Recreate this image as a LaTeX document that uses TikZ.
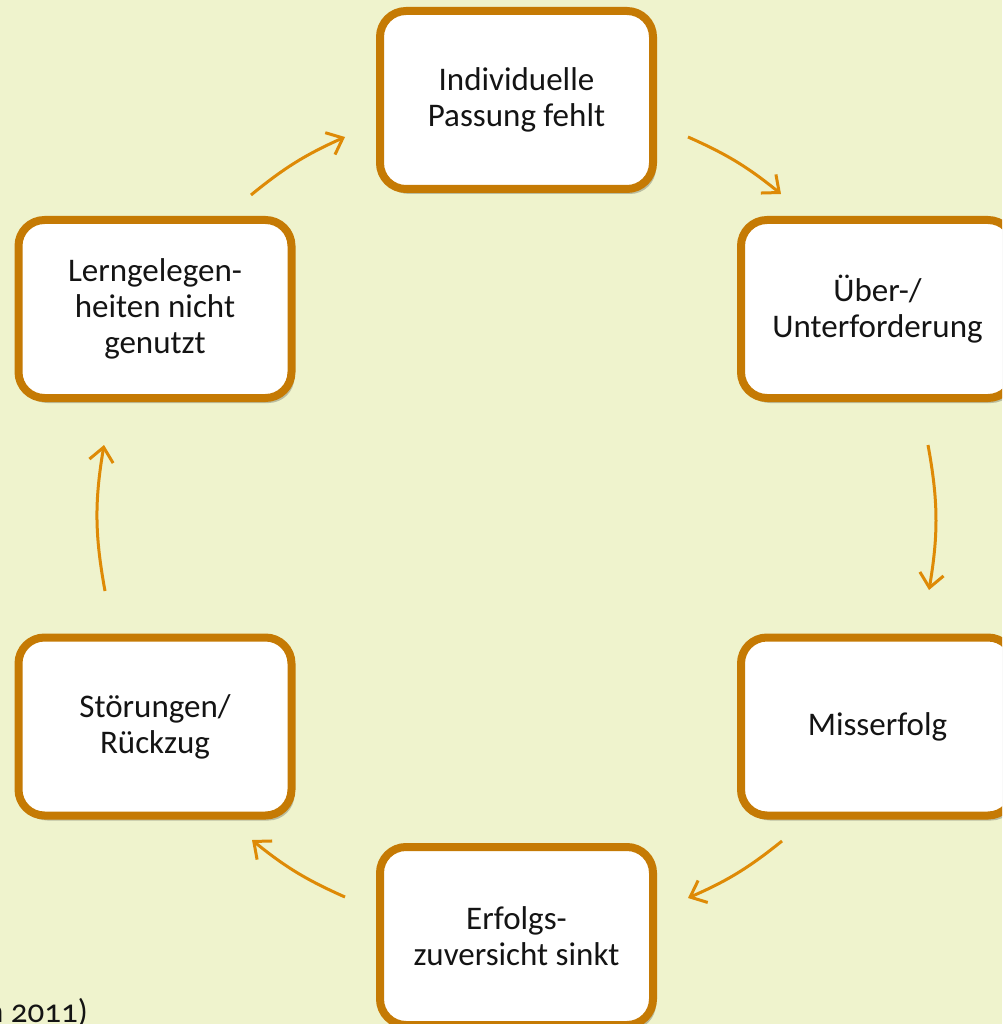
\documentclass[tikz,border=0pt]{standalone}
\usepackage{fontspec}
\setmainfont{Carlito}[Numbers=OldStyle]
\usetikzlibrary{arrows.meta,shadows}
\definecolor{bgc}{RGB}{239,243,205}
\definecolor{boxc}{RGB}{197,122,4}
\definecolor{arrc}{RGB}{222,138,6}
\definecolor{txtc}{RGB}{20,20,20}
\tikzset{
  cyclebox/.style={draw=boxc, line width=8pt, fill=white, rounded corners=26pt,
    minimum width=273pt, minimum height=178pt, align=center, inner sep=0pt,
    text=txtc, font=\fontsize{33}{36}\selectfont,
    drop shadow={shadow xshift=3pt, shadow yshift=-5pt, opacity=0.22, fill=black}},
  flow/.style={draw=arrc, line width=3pt,
    -{Straight Barb[length=14pt,width=24pt,line width=3pt]}}
}
\begin{document}
\begin{tikzpicture}[x=1pt,y=-1pt]
\useasboundingbox (0,0) rectangle (1002,1024);
\fill[bgc] (0,0) rectangle (1002,1024);
\clip (0,0) rectangle (1002,1024);
% boxes
\node[cyclebox] (A) at (516.5,100) {Individuelle\\Passung fehlt};
\node[cyclebox] (B) at (877.5,309) {Über-/\\Unterforderung};
\node[cyclebox] (C) at (877.5,726.5) {Misserfolg};
\node[cyclebox] (D) at (516.5,936) {Erfolgs-\\zuversicht sinkt};
\node[cyclebox] (E) at (155,726.5) {Störungen/\\Rückzug};
\node[cyclebox] (F) at (155,309) {Lerngelegen-\\heiten nicht\\genutzt};
% citation (cut off)
\node[anchor=base east, inner sep=0pt, text=txtc, font=\fontsize{33}{36}\selectfont] (cite) at (88,1022) {n 2011)};
% arrow ends on the circle
\coordinate (f1) at (251,195);  \coordinate (a1) at (345,137);
\coordinate (a2) at (688,137);  \coordinate (b1) at (781,194);
\coordinate (b2) at (928,445);  \coordinate (c1) at (929,590);
\coordinate (c2) at (782,841);  \coordinate (d1) at (688,898);
\coordinate (d2) at (345,897);  \coordinate (e1) at (252,840);
\coordinate (e2) at (105,591);  \coordinate (f2) at (104,445);
\draw[flow] (f1) to[bend left=7.6] (a1);
\draw[flow] (a2) to[bend left=7.6] (b1);
\draw[flow] (b2) to[bend left=10] (c1);
\draw[flow] (c2) to[bend left=7.6] (d1);
\draw[flow] (d2) to[bend left=7.6] (e1);
\draw[flow] (e2) to[bend left=10] (f2);
\end{tikzpicture}
\end{document}
